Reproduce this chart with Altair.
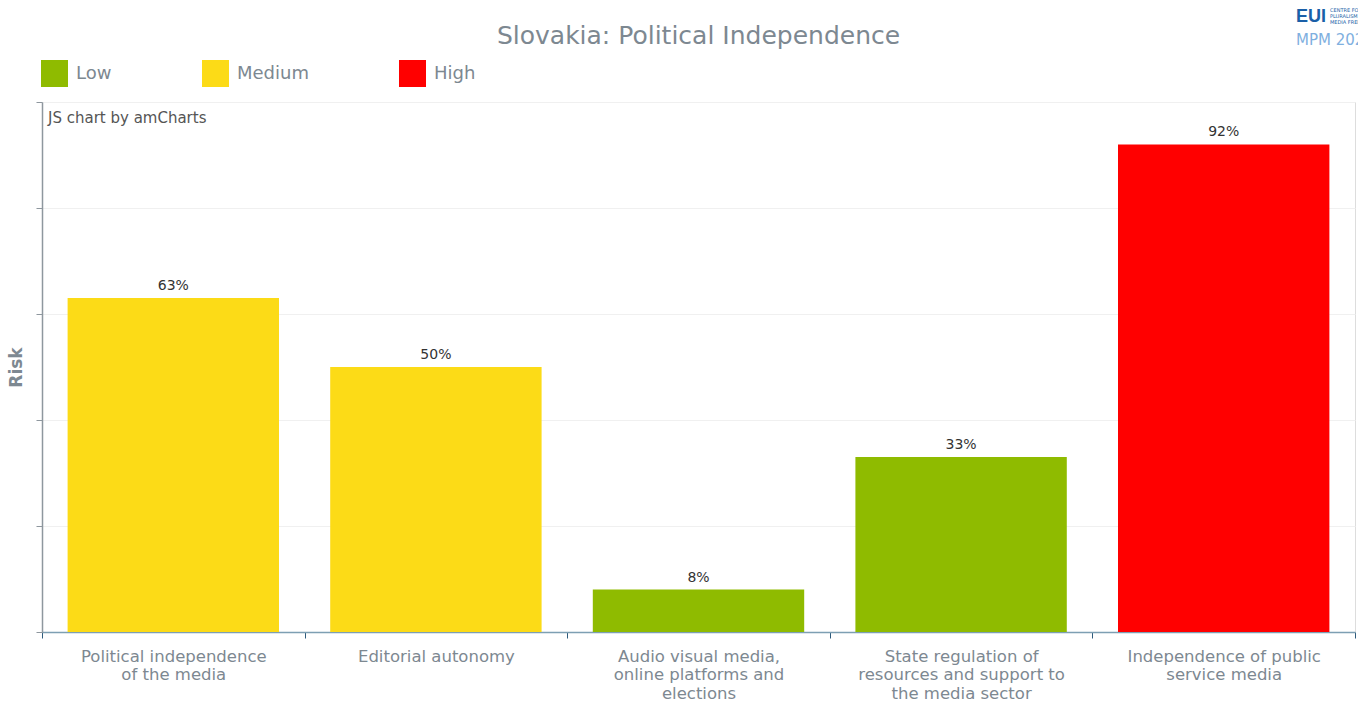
import altair as alt
import pandas as pd

categories = [
    "Political independence of the media",
    "Editorial autonomy",
    "Audio visual media, online platforms and elections",
    "State regulation of resources and support to the media sector",
    "Independence of public service media",
]
label_lines = [
    ["Political independence", "of the media"],
    ["Editorial autonomy"],
    ["Audio visual media,", "online platforms and", "elections"],
    ["State regulation of", "resources and support to", "the media sector"],
    ["Independence of public", "service media"],
]
values = [63, 50, 8, 33, 92]
risk = ["Medium", "Medium", "Low", "Low", "High"]
risk_levels = ["Low", "Medium", "High"]
risk_colors = ["#8fbb00", "#fcdb17", "#ff0000"]
title_text = "Slovakia: Political Independence"

df = pd.DataFrame({
    "cat": categories,
    "value": values,
    "risk": risk,
    "label": [f"{v}%" for v in values],
})

label_map = "{" + ",".join(
    '"' + c + '":[' + ",".join('"' + l + '"' for l in ls) + "]"
    for c, ls in zip(categories, label_lines)
) + "}"

FONT = "DejaVu Sans"
GRAY = "#7d8891"

x = alt.X(
    "cat:N",
    sort=categories,
    scale=alt.Scale(paddingInner=0, paddingOuter=0),
    axis=alt.Axis(
        title=None,
        labelAngle=0,
        labelExpr=label_map + "[datum.value]",
        labelFont=FONT,
        labelFontSize=16.5,
        labelColor=GRAY,
        labelLineHeight=18.5,
        labelPadding=10,
        labelLimit=400,
        tickBand="extent",
        tickSize=6,
        tickColor="#2e5b7c",
        domainColor="#7d9fb3",
        domainWidth=1.5,
        grid=False,
    ),
)

y = alt.Y(
    "value:Q",
    scale=alt.Scale(domain=[0, 100], nice=False),
    axis=alt.Axis(
        title="Risk",
        titleFont=FONT,
        titleFontSize=17,
        titleFontWeight="bold",
        titleColor=GRAY,
        titlePadding=10,
        labels=False,
        values=[0, 20, 40, 60, 80, 100],
        tickSize=6,
        tickColor="#8e979e",
        domainColor="#8e979e",
        domainWidth=1.5,
        gridColor="#f0f0f0",
        gridWidth=1,
    ),
)

bars = alt.Chart(df).mark_bar(width=alt.RelativeBandSize(0.805)).encode(
    x=x,
    y=y,
    color=alt.Color(
        "risk:N",
        scale=alt.Scale(domain=risk_levels, range=risk_colors),
        legend=alt.Legend(
            title=None,
            orient="none",
            legendX=-1,
            legendY=-42,
            direction="horizontal",
            symbolType="square",
            symbolSize=729,
            symbolStrokeWidth=0,
            symbolOpacity=1,
            labelFont=FONT,
            labelFontSize=18,
            labelColor=GRAY,
            labelOffset=8,
            columnPadding=90,
        ),
    ),
)

texts = alt.Chart(df).mark_text(
    dy=-12, font=FONT, fontSize=14, color="#333333"
).encode(
    x=alt.X("cat:N", sort=categories),
    y="value:Q",
    text="label:N",
)


def note(text, xpos, ypos, font=FONT, **kw):
    return alt.Chart(pd.DataFrame({"t": [text]})).mark_text(
        font=font, **kw
    ).encode(x=alt.value(xpos), y=alt.value(ypos), text="t:N")


title = note(title_text, 656.5, -58, align="center", baseline="alphabetic",
             fontSize=25, color=GRAY)
credit = note("JS chart by amCharts", 6, 16, align="left", baseline="middle",
              fontSize=15, color="#555555")
logo_eui = note("EUI", 1254, -85, font="Liberation Sans", align="left",
                baseline="middle", fontSize=18, fontWeight="bold", color="#1a5fa8")
logo_l1 = note("CENTRE FOR", 1288, -92, align="left", baseline="middle",
               fontSize=5, color="#1a5fa8")
logo_l2 = note("PLURALISM AND", 1288, -86, align="left", baseline="middle",
               fontSize=5, color="#1a5fa8")
logo_l3 = note("MEDIA FREEDOM", 1288, -80, align="left", baseline="middle",
               fontSize=5, color="#1a5fa8")
logo_mpm = note("MPM 2024", 1254, -62, align="left", baseline="middle",
                fontSize=15, color="#7fb0e0")

chart = alt.layer(
    bars, texts, title, credit, logo_eui, logo_l1, logo_l2, logo_l3, logo_mpm
).properties(
    width=1313,
    height=530,
    autosize=alt.AutoSizeParams(type="none"),
    padding={"left": 42, "top": 102, "right": 3, "bottom": 70},
).configure_view(stroke=None).configure(background="white")

chart.save("out.html", embed_options={"renderer": "svg", "actions": False})
